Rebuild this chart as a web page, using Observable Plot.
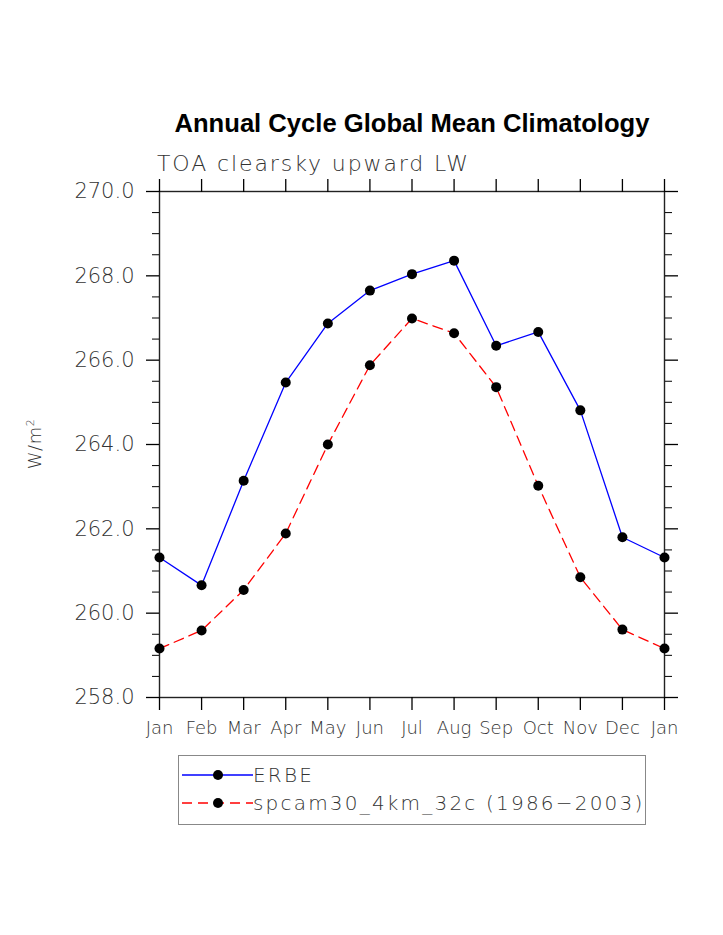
<!DOCTYPE html>
<html>
<head>
<meta charset="utf-8">
<script src="https://cdn.jsdelivr.net/npm/d3@7"></script>
<script src="https://cdn.jsdelivr.net/npm/@observablehq/plot@0.6"></script>
<style>
  html, body { margin: 0; padding: 0; background: #fff; }
  #wrap { position: relative; width: 723px; height: 935px; overflow: hidden; }
  #wrap svg text { font-family: "DejaVu Sans", sans-serif; font-weight: 200; }
  .title { position: absolute; left: 0; width: 824px; text-align: center; top: 111px;
           font: bold 25.6px/1 "Liberation Sans", Arial, sans-serif; color: #000; }
  .subtitle { position: absolute; left: 157px; top: 153px; font: 200 22px/1 "DejaVu Sans", sans-serif;
              letter-spacing: 1.9px; color: #333; white-space: nowrap; }
  .ylabel { position: absolute; left: 34px; top: 444px; transform: translate(-50%,-50%) rotate(-90deg);
            font: 200 18px/1 "DejaVu Sans", sans-serif; color: #333; white-space: nowrap; letter-spacing: 0.5px; }
  #plot { position: absolute; left: 0; top: 0; }
  #legend { position: absolute; left: 178px; top: 755px; }
</style>
</head>
<body>
<div id="wrap">
  <div id="plot"></div>
  <div class="title">Annual Cycle Global Mean Climatology</div>
  <div class="subtitle">TOA clearsky upward LW</div>
  <div class="ylabel">W/m<sup style="font-size:11px;vertical-align:7px">2</sup></div>
  <div id="legend"></div>
</div>
<script>
// ---- data ----
const months = ["Jan","Feb","Mar","Apr","May","Jun","Jul","Aug","Sep","Oct","Nov","Dec","Jan"];
const erbe  = [261.32, 260.66, 263.14, 265.47, 266.87, 267.65, 268.04, 268.36, 266.34, 266.67, 264.81, 261.80, 261.32];
const model = [259.16, 259.59, 260.55, 261.89, 264.00, 265.88, 266.99, 266.64, 265.36, 263.02, 260.85, 259.61, 259.16];
const seriesNames = ["ERBE", "spcam30_4km_32c (1986\u22122003)"];
const yMajor = [258, 260, 262, 264, 266, 268, 270];
const yMinor = [258.5, 259, 259.5, 260.5, 261, 261.5, 262.5, 263, 263.5, 264.5, 265, 265.5,
                266.5, 267, 267.5, 268.5, 269, 269.5];

const idx = months.map((m, i) => i);
const erbeData  = idx.map(i => ({x: i, y: erbe[i]}));
const modelData = idx.map(i => ({x: i, y: model[i]}));

const styles = [
  {stroke: "#0000ff", dash: null},
  {stroke: "#ff0000", dash: "10,6"}
];

const chart = Plot.plot({
  width: 723,
  height: 760,
  marginLeft: 159,
  marginRight: 59,
  marginTop: 191,
  marginBottom: 63,
  x: {type: "linear", domain: [0, 12]},
  y: {domain: [258, 270]},
  style: {background: "transparent", color: "#000"},
  marks: [
    Plot.frame({stroke: "#222", strokeWidth: 1.4}),
    // left axis
    Plot.axisY({anchor: "left", ticks: yMajor, tickSize: 13, tickPadding: 12,
                tickFormat: d => d.toFixed(1), fontSize: 21, label: null, strokeWidth: 1.3,
                fill: "#333", style: "letter-spacing:1.6px"}),
    Plot.axisY({anchor: "left", ticks: yMinor, tickSize: 7, text: null, label: null, strokeWidth: 1}),
    // right axis
    Plot.axisY({anchor: "right", ticks: yMajor, tickSize: 13, text: null, label: null, strokeWidth: 1.3}),
    Plot.axisY({anchor: "right", ticks: yMinor, tickSize: 7, text: null, label: null, strokeWidth: 1}),
    // bottom axis
    Plot.axisX({anchor: "bottom", ticks: idx, tickSize: 13, tickPadding: 11,
                tickFormat: i => months[i], fontSize: 18, label: null, strokeWidth: 1.3,
                fill: "#333", style: "letter-spacing:0.8px"}),
    // top axis
    Plot.axisX({anchor: "top", ticks: idx, tickSize: 13, text: null, label: null, strokeWidth: 1.3}),
    // series
    Plot.line(erbeData,  {x: "x", y: "y", stroke: styles[0].stroke, strokeWidth: 1.3}),
    Plot.line(modelData, {x: "x", y: "y", stroke: styles[1].stroke, strokeWidth: 1.3, strokeDasharray: styles[1].dash}),
    Plot.dot(erbeData,  {x: "x", y: "y", r: 5, fill: "black", stroke: "none"}),
    Plot.dot(modelData, {x: "x", y: "y", r: 5, fill: "black", stroke: "none"})
  ]
});
document.getElementById("plot").appendChild(chart);

// ---- legend ----
const lw = 467, lh = 69;
const leg = d3.select("#legend").append("svg")
  .attr("width", lw + 2).attr("height", lh + 2);
leg.append("rect").attr("x", 0.5).attr("y", 0.5).attr("width", lw).attr("height", lh)
  .attr("fill", "#fff").attr("stroke", "#888").attr("stroke-width", 1);
const rows = leg.selectAll("g.row").data(seriesNames).join("g")
  .attr("transform", (d, i) => `translate(0,${20 + i * 28})`);
rows.append("line").attr("x1", 4).attr("x2", 75).attr("y1", 0).attr("y2", 0)
  .attr("stroke", (d, i) => styles[i].stroke).attr("stroke-width", 1.3)
  .attr("stroke-dasharray", (d, i) => styles[i].dash);
rows.append("circle").attr("cx", 40).attr("cy", 0).attr("r", 5).attr("fill", "black");
rows.append("text").attr("x", 75).attr("y", 7).text(d => d)
  .attr("font-family", "DejaVu Sans").attr("font-weight", 200).attr("font-size", 20)
  .attr("letter-spacing", "2.2px").attr("fill", "#333");
</script>
</body>
</html>
